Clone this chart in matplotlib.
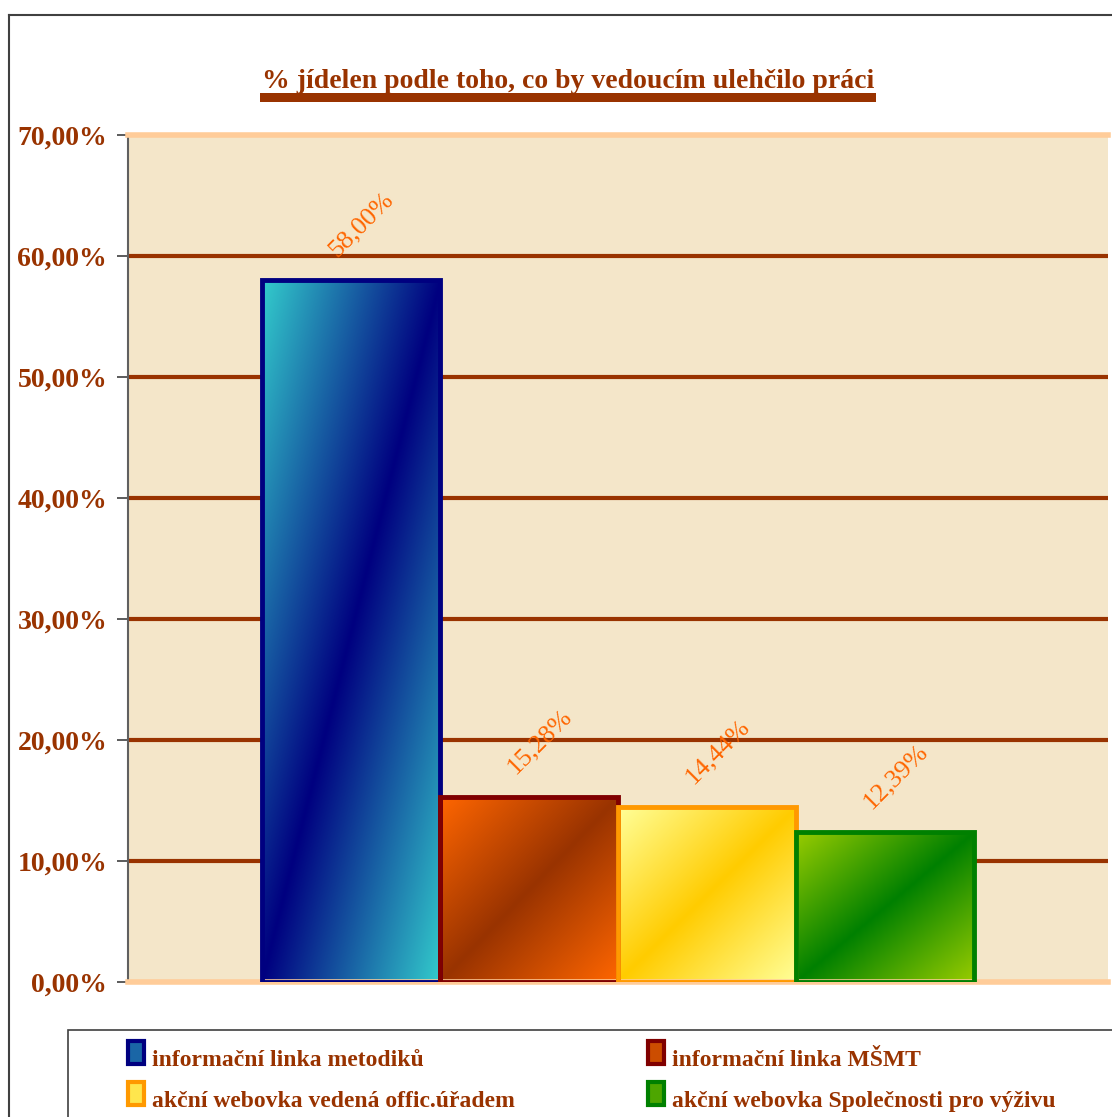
import numpy as np
import matplotlib.pyplot as plt
from matplotlib.patches import Rectangle
from matplotlib.colors import to_rgb

# data
categories = ['informační linka metodiků', 'informační linka MŠMT',
              'akční webovka vedená offic.úřadem', 'akční webovka Společnosti pro výživu']
values = [58.00, 15.28, 14.44, 12.39]
labels = ['58,00%', '15,28%', '14,44%', '12,39%']
yticks = [0, 10, 20, 30, 40, 50, 60, 70]
ytick_labels = ['0,00%', '10,00%', '20,00%', '30,00%', '40,00%', '50,00%', '60,00%', '70,00%']
title = '% jídelen podle toho, co by vedoucím ulehčilo práci'

# gradient colours: diagonal, corners, edge
dark_cols = ['#000080', '#993300', '#FFCC00', '#008000']
light_cols = ['#33CCCC', '#FF6600', '#FFFF99', '#99CC00']
edge_cols = ['#000080', '#800000', '#FF9900', '#008000']

brown = '#993300'
serif = 'Liberation Serif'
W, H = 1112, 1117
fig = plt.figure(figsize=(W / 100, H / 100), dpi=100)
fig.patch.set_facecolor('white')

# outer frame (left and top only visible)
fig.add_artist(plt.Line2D([9 / W, 9 / W], [0, 1 - 15 / H], color='#404040', lw=1.5))
fig.add_artist(plt.Line2D([9 / W, 1], [1 - 15 / H, 1 - 15 / H], color='#404040', lw=1.5))

ax = fig.add_axes([128 / W, 1 - 982 / H, (1108 - 128) / W, (982 - 135) / H])
ax.set_facecolor('#F4E6C9')

for y in yticks[1:-1]:
    ax.axhline(y, color=brown, lw=3, zorder=1)

# bars with a diagonal gradient (dark along the diagonal, light in the corners)
n = 200
X, Y = np.meshgrid(np.linspace(0, 1, n), np.linspace(0, 1, n))
t = np.abs(X - Y)[..., None]
for i, v in enumerate(values):
    d = np.array(to_rgb(dark_cols[i]))
    l = np.array(to_rgb(light_cols[i]))
    img = d * (1 - t) + l * t
    ax.imshow(img, extent=(i - 0.5, i + 0.5, 0, v), origin='lower',
              aspect='auto', interpolation='bilinear', zorder=2)
    ax.add_patch(Rectangle((i - 0.5, 0), 1, v, fill=False,
                           edgecolor=edge_cols[i], lw=3.5, zorder=3))
    ax.text(i + 0.06, v + 4.6, labels[i], rotation=45, ha='center', va='center',
            rotation_mode='anchor', color='#FF6600', fontsize=19, family=serif, zorder=4)

ax.set_xlim(-1.25, 4.25)
ax.set_ylim(0, 70)
ax.set_xticks([])
ax.set_yticks(yticks)
ax.set_yticklabels(ytick_labels, color=brown, fontsize=20, fontweight='bold', family=serif)
ax.tick_params(axis='y', length=8, width=1.2, color='#404040', pad=7)
for s in ['top', 'bottom']:
    ax.spines[s].set_color('#FFCC99')
    ax.spines[s].set_linewidth(4)
ax.spines['right'].set_visible(False)
ax.spines['left'].set_color('#606060')
ax.spines['left'].set_linewidth(1.5)

# title with thick underline
fig.text(568 / W, 1 - 88 / H, title, ha='center', va='baseline', color=brown,
         fontsize=20, fontweight='bold', family=serif)
fig.add_artist(Rectangle((260 / W, 1 - 102 / H), (876 - 260) / W, 9 / H,
                         transform=fig.transFigure, color=brown, lw=0))

# legend box (cut by the figure edges)
fig.add_artist(Rectangle((68 / W, -0.01), 1, (1 - 1030 / H) + 0.01,
                         transform=fig.transFigure, facecolor='white',
                         edgecolor='#404040', lw=1.2))
pos = [(128, 1066), (648, 1066), (128, 1107), (648, 1107)]
for i, cat in enumerate(categories):
    px, py = pos[i]
    mid = (np.array(to_rgb(dark_cols[i])) + np.array(to_rgb(light_cols[i]))) / 2
    fig.add_artist(Rectangle((px / W, 1 - (py - 2) / H), 16 / W, 23 / H,
                             transform=fig.transFigure, facecolor=mid,
                             edgecolor=edge_cols[i], lw=3))
    fig.text((px + 24) / W, 1 - py / H, cat, ha='left', va='baseline',
             color=brown, fontsize=17, fontweight='bold', family=serif)

fig.savefig('out.png', dpi=100)
